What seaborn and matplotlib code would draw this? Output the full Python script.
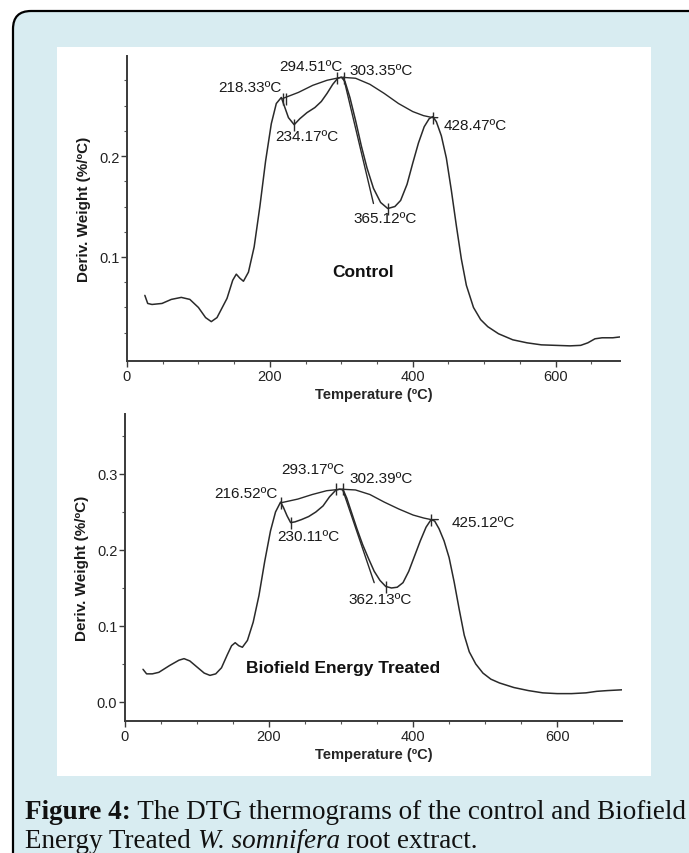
import numpy as np
import pandas as pd
import matplotlib.pyplot as plt
import matplotlib.patches as mpatches
from matplotlib.transforms import IdentityTransform
import seaborn as sns

# DTG curve of the control sample (temperature in C, deriv. weight in %/C)
ctrl_temp = [25, 29, 35, 49, 62, 76, 88, 100, 110, 118, 126, 140, 148, 153, 158, 163,
             170, 178, 186, 194, 202, 209, 216, 220, 226, 234, 242, 252, 263, 272, 280,
             288, 295, 300, 305, 312, 320, 328, 336, 345, 355, 365, 375, 383, 392, 400,
             408, 416, 423, 428, 433, 440, 447, 454, 461, 468, 475, 485, 495, 505, 520,
             540, 560, 580, 600, 620, 635, 645, 655, 665, 680, 692]
ctrl_dtg = [0.062, 0.054, 0.053, 0.054, 0.058, 0.060, 0.058, 0.050, 0.040, 0.036, 0.040,
            0.059, 0.077, 0.083, 0.079, 0.076, 0.085, 0.110, 0.150, 0.195, 0.232, 0.252,
            0.258, 0.250, 0.238, 0.231, 0.237, 0.243, 0.248, 0.254, 0.262, 0.271, 0.277,
            0.278, 0.274, 0.258, 0.235, 0.210, 0.188, 0.168, 0.154, 0.148, 0.150, 0.156,
            0.172, 0.193, 0.213, 0.229, 0.237, 0.239, 0.234, 0.220, 0.198, 0.166, 0.131,
            0.098, 0.072, 0.050, 0.038, 0.031, 0.024, 0.018, 0.015, 0.013, 0.0125, 0.012,
            0.0125, 0.015, 0.019, 0.020, 0.020, 0.021]
# peak-connecting arc and tangent drawn over the control curve
ctrl_arc_temp = [218, 240, 260, 280, 300, 320, 340, 360, 380, 400, 415, 428, 435]
ctrl_arc_dtg = [0.257, 0.263, 0.270, 0.275, 0.278, 0.277, 0.271, 0.262, 0.252, 0.244,
                0.240, 0.238, 0.238]
ctrl_tan_temp = [303, 345]
ctrl_tan_dtg = [0.278, 0.153]
ctrl_peak_temp = [218.33, 222, 234.17, 294.51, 303.35, 365.12, 428.47]
ctrl_peak_dtg = [0.256, 0.256, 0.231, 0.277, 0.277, 0.148, 0.238]
ctrl_labels = ['218.33ºC', '234.17ºC', '294.51ºC', '303.35ºC', '365.12ºC', '428.47ºC']

# DTG curve of the Biofield Energy Treated sample
trt_temp = [25, 30, 38, 47, 62, 75, 82, 90, 100, 110, 118, 126, 134, 142, 148, 153, 158,
            163, 170, 178, 186, 194, 202, 209, 216, 220, 225, 230, 236, 245, 255, 265,
            275, 284, 293, 298, 303, 308, 315, 322, 330, 338, 346, 354, 362, 370, 378,
            386, 394, 402, 410, 418, 425, 430, 436, 443, 450, 457, 464, 471, 478, 487,
            497, 508, 520, 540, 560, 580, 600, 620, 640, 655, 670, 690]
trt_dtg = [0.043, 0.037, 0.037, 0.039, 0.048, 0.055, 0.057, 0.054, 0.046, 0.038, 0.035,
           0.037, 0.045, 0.062, 0.074, 0.078, 0.074, 0.072, 0.081, 0.105, 0.140, 0.185,
           0.225, 0.250, 0.263, 0.256, 0.245, 0.236, 0.237, 0.240, 0.244, 0.250, 0.258,
           0.270, 0.279, 0.280, 0.279, 0.268, 0.248, 0.228, 0.207, 0.189, 0.172, 0.160,
           0.152, 0.150, 0.151, 0.157, 0.172, 0.192, 0.212, 0.230, 0.240, 0.238, 0.228,
           0.212, 0.190, 0.158, 0.122, 0.088, 0.066, 0.050, 0.038, 0.030, 0.025, 0.019,
           0.015, 0.012, 0.011, 0.011, 0.012, 0.014, 0.015, 0.016]
trt_arc_temp = [216, 240, 260, 280, 300, 320, 340, 360, 380, 400, 415, 425, 435]
trt_arc_dtg = [0.262, 0.267, 0.273, 0.278, 0.280, 0.279, 0.273, 0.263, 0.254, 0.246,
               0.242, 0.240, 0.240]
trt_tan_temp = [302, 346]
trt_tan_dtg = [0.280, 0.157]
trt_peak_temp = [216.52, 230.11, 293.17, 302.39, 362.13, 425.12]
trt_peak_dtg = [0.262, 0.236, 0.280, 0.280, 0.151, 0.240]
trt_labels = ['216.52ºC', '230.11ºC', '293.17ºC', '302.39ºC', '362.13ºC', '425.12ºC']

x_major = [0, 200, 400, 600]
x_minor = [50, 100, 150, 250, 300, 350, 450, 500, 550, 650]
ctrl_y_major = [0.1, 0.2]
ctrl_y_minor = [0.025, 0.05, 0.075, 0.125, 0.15, 0.175, 0.225, 0.25, 0.275]
trt_y_major = [0.0, 0.1, 0.2, 0.3]
trt_y_minor = [0.05, 0.15, 0.25, 0.35]

sns.set_style("ticks")
plt.rcParams['font.family'] = ['Liberation Sans', 'DejaVu Sans']

ink = '#2a2a2a'

fig = plt.figure(figsize=(6.89, 8.54), dpi=100)
fig.patch.set_facecolor('white')

# light blue rounded box and the white picture panel
frame = mpatches.FancyBboxPatch((13, -40), 720, 882, boxstyle="round,pad=0,rounding_size=18",
                                transform=IdentityTransform(), fc='#d8ecf1', ec='black',
                                lw=1.6, zorder=-3)
fig.add_artist(frame)
panel = mpatches.Rectangle((57, 77), 594, 729, transform=IdentityTransform(),
                           fc='white', ec='none', zorder=-2)
fig.add_artist(panel)

ax1 = fig.add_axes([0.1843, 0.5761, 0.7155, 0.3571])
ax2 = fig.add_axes([0.1814, 0.1546, 0.7213, 0.3595])


def draw_panel(ax, temp, dtg, arc_t, arc_v, tan_t, tan_v, pk_t, pk_v, ylim, ymaj, ymin):
    ax.set_facecolor('none')
    df = pd.DataFrame({'Temperature': temp, 'DTG': dtg})
    sns.lineplot(data=df, x='Temperature', y='DTG', ax=ax, color=ink, lw=1.1)
    sns.lineplot(x=arc_t, y=arc_v, ax=ax, color=ink, lw=1.0)
    sns.lineplot(x=tan_t, y=tan_v, ax=ax, color=ink, lw=1.0)
    ax.plot(pk_t, pk_v, ls='none', marker='|', ms=9, mew=1.0, color=ink)
    ax.set_xlim(0, 690)
    ax.set_ylim(*ylim)
    ax.set_xticks(x_major)
    ax.set_xticks(x_minor, minor=True)
    ax.set_yticks(ymaj)
    ax.set_yticks(ymin, minor=True)
    ax.set_xticklabels([str(v) for v in x_major])
    ax.set_yticklabels([f'{v:.1f}' for v in ymaj])
    sns.despine(ax=ax)
    for s in ['left', 'bottom']:
        ax.spines[s].set_color('#3a3a3a')
        ax.spines[s].set_linewidth(1.4)
    ax.tick_params(which='major', length=4, width=1.0, color='#3a3a3a', pad=1.5,
                   labelsize=10.5, labelcolor='#222222')
    ax.tick_params(which='minor', length=2, width=0.8, color='#555555')
    ax.set_xlabel('Temperature (ºC)', fontsize=10.5, fontweight='bold', labelpad=3)
    ax.set_ylabel('Deriv. Weight (%/ºC)', fontsize=11, fontweight='bold', labelpad=6,
                  color='#1a1a1a')


draw_panel(ax1, ctrl_temp, ctrl_dtg, ctrl_arc_temp, ctrl_arc_dtg, ctrl_tan_temp,
           ctrl_tan_dtg, ctrl_peak_temp, ctrl_peak_dtg, (-0.003, 0.299),
           ctrl_y_major, ctrl_y_minor)
draw_panel(ax2, trt_temp, trt_dtg, trt_arc_temp, trt_arc_dtg, trt_tan_temp,
           trt_tan_dtg, trt_peak_temp, trt_peak_dtg, (-0.025, 0.379),
           trt_y_major, trt_y_minor)

fs = 11
# control annotations
ax1.text(216, 0.268, ctrl_labels[0], ha='right', va='center', fontsize=fs, color='#1a1a1a')
ax1.text(207, 0.220, ctrl_labels[1], ha='left', va='center', fontsize=fs, color='#1a1a1a')
ax1.text(257, 0.289, ctrl_labels[2], ha='center', va='center', fontsize=fs, color='#1a1a1a')
ax1.text(311, 0.285, ctrl_labels[3], ha='left', va='center', fontsize=fs, color='#1a1a1a')
ax1.text(361, 0.139, ctrl_labels[4], ha='center', va='center', fontsize=fs, color='#1a1a1a')
ax1.text(443, 0.231, ctrl_labels[5], ha='left', va='center', fontsize=fs, color='#1a1a1a')
ax1.text(331, 0.0855, 'Control', ha='center', va='center', fontsize=12.5,
         fontweight='bold', color='#111111')

# treated annotations
ax2.text(212.5, 0.275, trt_labels[0], ha='right', va='center', fontsize=fs, color='#1a1a1a')
ax2.text(211, 0.218, trt_labels[1], ha='left', va='center', fontsize=fs, color='#1a1a1a')
ax2.text(261, 0.3066, trt_labels[2], ha='center', va='center', fontsize=fs, color='#1a1a1a')
ax2.text(311, 0.2947, trt_labels[3], ha='left', va='center', fontsize=fs, color='#1a1a1a')
ax2.text(354, 0.1355, trt_labels[4], ha='center', va='center', fontsize=fs, color='#1a1a1a')
ax2.text(453, 0.237, trt_labels[5], ha='left', va='center', fontsize=fs, color='#1a1a1a')
ax2.text(303, 0.046, 'Biofield Energy Treated', ha='center', va='center', fontsize=12.5,
         fontweight='bold', color='#111111')

# caption, pieces chained one after another
cap = dict(family='Liberation Serif', fontsize=19.5, color='#111111', va='bottom')
t1 = fig.text(25 / 689, 29 / 854, 'Figure 4:', fontweight='bold', ha='left', **cap)
ax2.annotate(' The DTG thermograms of the control and Biofield', xy=(1, 0), xycoords=t1,
             ha='left', annotation_clip=False, **cap)
t3 = fig.text(25 / 689, 0 / 854, 'Energy Treated ', ha='left', **cap)
t4 = ax2.annotate('W. somnifera', xy=(1, 0), xycoords=t3, ha='left', style='italic',
                  annotation_clip=False, **cap)
ax2.annotate(' root extract.', xy=(1, 0), xycoords=t4, ha='left', annotation_clip=False, **cap)

fig.savefig('out.png', dpi=100)
